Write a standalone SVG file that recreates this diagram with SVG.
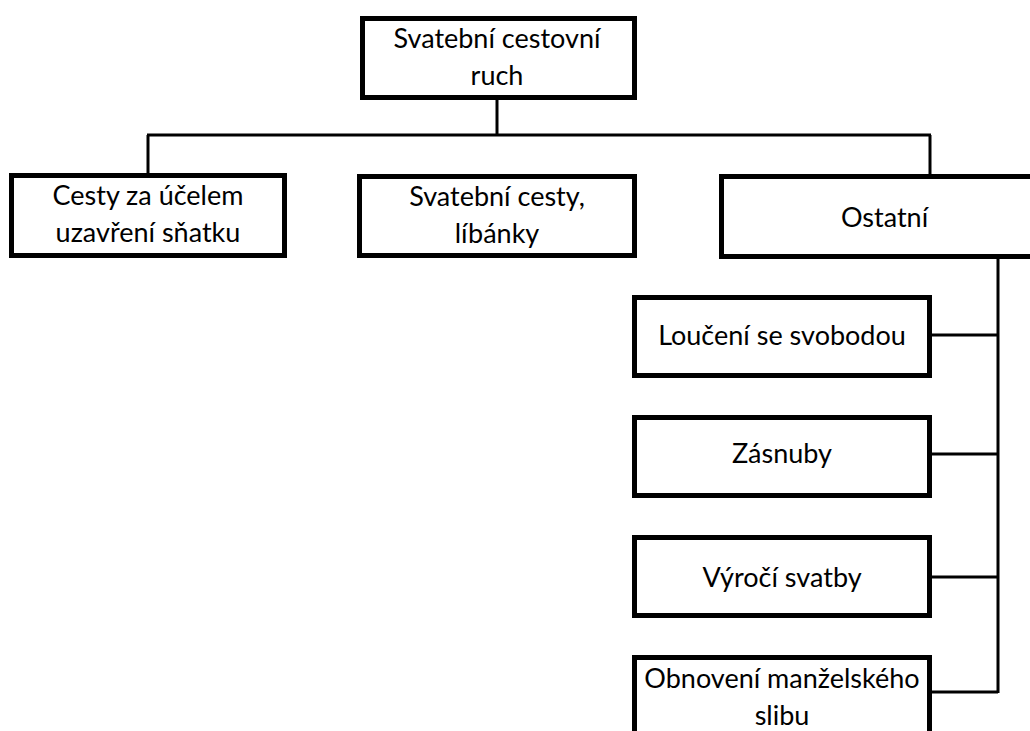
<svg xmlns="http://www.w3.org/2000/svg" width="1030" height="731" viewBox="0 0 1030 731">
<style>
.box{fill:#fff;stroke:#000;stroke-width:5}
.lbl{font-family:Lato,"Open Sans","Liberation Sans",sans-serif;font-size:27px;fill:#000;text-anchor:middle}
.con{stroke:#000;stroke-width:3;fill:none}
</style>
<rect width="1030" height="731" fill="#fff"/>
<g id="connectors">
<line class="con" x1="497" y1="100" x2="497" y2="135"/>
<line class="con" x1="147" y1="135" x2="931" y2="135"/>
<line class="con" x1="148" y1="135" x2="148" y2="173"/>
<line class="con" x1="930" y1="135" x2="930" y2="174"/>
<line class="con" x1="998" y1="259" x2="998" y2="693"/>
<line class="con" x1="932" y1="335" x2="998" y2="335"/>
<line class="con" x1="932" y1="454" x2="998" y2="454"/>
<line class="con" x1="932" y1="577" x2="998" y2="577"/>
<line class="con" x1="932" y1="692" x2="998" y2="692"/>
</g>
<g id="n-root">
<rect class="box" x="362.5" y="18.5" width="272" height="79"/>
<text class="lbl" x="497" y="48">Svatební cestovní</text>
<text class="lbl" x="497" y="85">ruch</text>
</g>
<g id="n-cesty">
<rect class="box" x="11.5" y="175.5" width="273" height="80"/>
<text class="lbl" x="148" y="205">Cesty za účelem</text>
<text class="lbl" x="148" y="242">uzavření sňatku</text>
</g>
<g id="n-svatebni">
<rect class="box" x="359.5" y="176.5" width="275" height="79"/>
<text class="lbl" x="497" y="206">Svatební cesty,</text>
<text class="lbl" x="497" y="243">líbánky</text>
</g>
<g id="n-ostatni">
<rect class="box" x="721.5" y="176.5" width="330" height="80"/>
<text class="lbl" x="884.5" y="227">Ostatní</text>
</g>
<g id="n-louceni">
<rect class="box" x="634.5" y="297.5" width="295" height="78"/>
<text class="lbl" x="782" y="345">Loučení se svobodou</text>
</g>
<g id="n-zasnuby">
<rect class="box" x="634.5" y="417.5" width="295" height="78"/>
<text class="lbl" x="782" y="463">Zásnuby</text>
</g>
<g id="n-vyroci">
<rect class="box" x="634.5" y="537.5" width="295" height="78"/>
<text class="lbl" x="782" y="587">Výročí svatby</text>
</g>
<g id="n-obnoveni">
<rect class="box" x="634.5" y="657.5" width="295" height="100"/>
<text class="lbl" x="782" y="688">Obnovení manželského</text>
<text class="lbl" x="782" y="725">slibu</text>
</g>
</svg>
